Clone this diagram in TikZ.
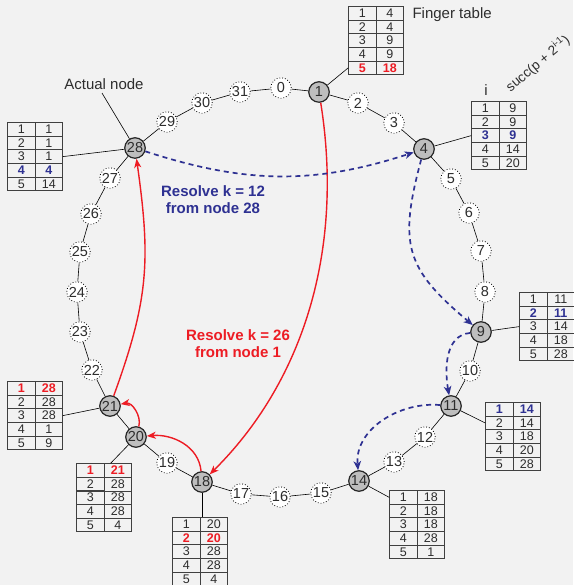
\documentclass[tikz,border=0pt]{standalone}
\usepackage{fontspec}
\setmainfont{Liberation Sans}
\usetikzlibrary{arrows.meta,matrix}
\definecolor{bggray}{RGB}{242,242,242}
\definecolor{nodegray}{RGB}{190,190,190}
\definecolor{txtgray}{RGB}{45,45,45}
\definecolor{hopred}{RGB}{237,28,36}
\definecolor{hopblue}{RGB}{46,49,146}
\tikzset{
    ringnode/.style = {circle, inner sep=0pt, minimum size=20.5pt, text=txtgray, font=\fontsize{14.5}{14.5}\selectfont},
    node_act/.style = {ringnode, draw=black!85, fill=nodegray, line width=1.2pt},
    node_empty/.style = {ringnode, draw=black, fill=white, dotted, line width=0.8pt},
    cell/.style = {rectangle, draw=black!75, line width=0.7pt, inner sep=0pt, minimum width=27.5pt, minimum height=13.6pt, text=txtgray, font=\fontsize{12.5}{12.5}\selectfont},
    cell_red/.style = {text=hopred, font=\fontsize{12.5}{12.5}\selectfont\bfseries},
    cell_blue/.style = {text=hopblue, font=\fontsize{12.5}{12.5}\selectfont\bfseries},
    ftable/.style = {matrix of nodes, nodes={cell}, column sep=-0.7pt, row sep=-0.7pt, inner sep=0pt, anchor=north west},
    link/.style = {draw=black, line width=0.6pt},
    hop_red/.style = {-{Stealth[length=9pt, width=7pt, inset=2.5pt]}, draw=hopred, line width=1.4pt},
    hop_blue/.style = {-{Stealth[length=9pt, width=7.5pt, inset=2.5pt]}, draw=hopblue, line width=1.7pt, dash pattern=on 5pt off 4pt},
    note/.style = {text=txtgray, font=\fontsize{15}{15}\selectfont},
    note_red/.style = {align=center, text=hopred, font=\fontsize{15}{17}\selectfont\bfseries},
    note_blue/.style = {align=center, text=hopblue, font=\fontsize{15}{17}\selectfont\bfseries}
}
\begin{document}
\begin{tikzpicture}[x=1pt, y=1pt]
    \path[use as bounding box, fill=bggray] (0,0) rectangle (573,585);

    % the ring
    \node [node_empty] (n0) at (281,497) {0};
    \node [node_act]   (n1) at (319,493) {1};
    \node [node_empty] (n2) at (358,482) {2};
    \node [node_empty] (n3) at (394,462) {3};
    \node [node_act]   (n4) at (424,436) {4};
    \node [node_empty] (n5) at (451,406) {5};
    \node [node_empty] (n6) at (469,372) {6};
    \node [node_empty] (n7) at (481,334) {7};
    \node [node_empty] (n8) at (485,293) {8};
    \node [node_act]   (n9) at (481,253) {9};
    \node [node_empty] (n10) at (470,214) {10};
    \node [node_act]   (n11) at (451,179) {11};
    \node [node_empty] (n12) at (425,148) {12};
    \node [node_empty] (n13) at (394,123) {13};
    \node [node_act]   (n14) at (359,104) {14};
    \node [node_empty] (n15) at (321,92) {15};
    \node [node_empty] (n16) at (280,88) {16};
    \node [node_empty] (n17) at (241,91) {17};
    \node [node_act]   (n18) at (202,103) {18};
    \node [node_empty] (n19) at (167,122) {19};
    \node [node_act]   (n20) at (136,148) {20};
    \node [node_act]   (n21) at (110,179) {21};
    \node [node_empty] (n22) at (92,215) {22};
    \node [node_empty] (n23) at (80,253) {23};
    \node [node_empty] (n24) at (77,293) {24};
    \node [node_empty] (n25) at (80,333) {25};
    \node [node_empty] (n26) at (91,371) {26};
    \node [node_empty] (n27) at (110,407) {27};
    \node [node_act]   (n28) at (135,437) {28};
    \node [node_empty] (n29) at (167,463) {29};
    \node [node_empty] (n30) at (202,482) {30};
    \node [node_empty] (n31) at (240,493) {31};
    \draw [link] (n0) -- (n1) -- (n2) -- (n3) -- (n4) -- (n5) -- (n6) -- (n7) -- (n8)
        -- (n9) -- (n10) -- (n11) -- (n12) -- (n13) -- (n14) -- (n15) -- (n16)
        -- (n17) -- (n18) -- (n19) -- (n20) -- (n21) -- (n22) -- (n23) -- (n24)
        -- (n25) -- (n26) -- (n27) -- (n28) -- (n29) -- (n30) -- (n31) -- (n0);

    % finger tables
    \matrix (t1) [ftable] at (348,579) {
        1 & 4 \\ 2 & 4 \\ 3 & 9 \\ 4 & 9 \\ |[cell_red]| 5 & |[cell_red]| 18 \\
    };
    \matrix (t4) [ftable] at (471,484) {
        1 & 9 \\ 2 & 9 \\ |[cell_blue]| 3 & |[cell_blue]| 9 \\ 4 & 14 \\ 5 & 20 \\
    };
    \matrix (t9) [ftable] at (519,293) {
        1 & 11 \\ |[cell_blue]| 2 & |[cell_blue]| 11 \\ 3 & 14 \\ 4 & 18 \\ 5 & 28 \\
    };
    \matrix (t11) [ftable] at (485,183) {
        |[cell_blue]| 1 & |[cell_blue]| 14 \\ 2 & 14 \\ 3 & 18 \\ 4 & 20 \\ 5 & 28 \\
    };
    \matrix (t14) [ftable] at (389,95) {
        1 & 18 \\ 2 & 18 \\ 3 & 18 \\ 4 & 28 \\ 5 & 1 \\
    };
    \matrix (t18) [ftable] at (172,68) {
        1 & 20 \\ |[cell_red]| 2 & |[cell_red]| 20 \\ 3 & 28 \\ 4 & 28 \\ 5 & 4 \\
    };
    \matrix (t20) [ftable] at (76,122) {
        |[cell_red]| 1 & |[cell_red]| 21 \\ 2 & 28 \\ 3 & 28 \\ 4 & 28 \\ 5 & 4 \\
    };
    \matrix (t21) [ftable] at (7,204) {
        |[cell_red]| 1 & |[cell_red]| 28 \\ 2 & 28 \\ 3 & 28 \\ 4 & 1 \\ 5 & 9 \\
    };
    \matrix (t28) [ftable] at (7,463) {
        1 & 1 \\ 2 & 1 \\ 3 & 1 \\ |[cell_blue]| 4 & |[cell_blue]| 4 \\ 5 & 14 \\
    };
    \draw [link] (n1) -- (t1-5-1.west);
    \draw [link] (n4) -- (t4-3-1.west);
    \draw [link] (n9) -- (t9-3-1.west);
    \draw [link] (n11) -- (t11-2-1.west);
    \draw [link] (n14) -- (t14-1-1.west);
    \draw [link] (n18) -- (n18 |- t18.north);
    \draw [link] (n20) -- ([xshift=7pt]t20-1-2.north west);
    \draw [link] (n21) -- (t21-3-2.east);
    \draw [link] (n28) -- (t28-3-2.east);

    % captions
    \node [note, anchor=west] (ftlabel) at (409,570) {Finger table};
    \node [note] (ilabel) at (486,495) {i};
    \node [note, font=\fontsize{13.5}{13.5}\selectfont, anchor=west, rotate=40] (succlabel) at (505,494) {succ(p + 2\textsuperscript{i-1})};
    \node [note] (actual) at (104,501) {Actual node};
    \draw [link] ([xshift=-2pt]actual.south) -- (n28);

    % lookups
    \draw [hop_red] (n1) .. controls (345,330) and (300,200) .. (n18);
    \draw [hop_red] (n18) to[out=95, in=5] (n20);
    \draw [hop_red] (n20) to[out=75, in=10] (n21);
    \draw [hop_red] (n21) to[out=70, in=-82, looseness=1.1] (n28);
    \draw [hop_blue] (n28) to[out=-18, in=198] (n4);
    \draw [hop_blue] (n4) to[out=-105, in=140, looseness=1.3] (n9);
    \draw [hop_blue] (n9) to[out=185, in=100] (n11);
    \draw [hop_blue] (n11) to[out=175, in=95] (n14);
    \node [note_red] (rlabel) at (238,241) {Resolve k = 26\\from node 1};
    \node [note_blue] (blabel) at (213,385) {Resolve k = 12\\from node 28};
\end{tikzpicture}
\end{document}
